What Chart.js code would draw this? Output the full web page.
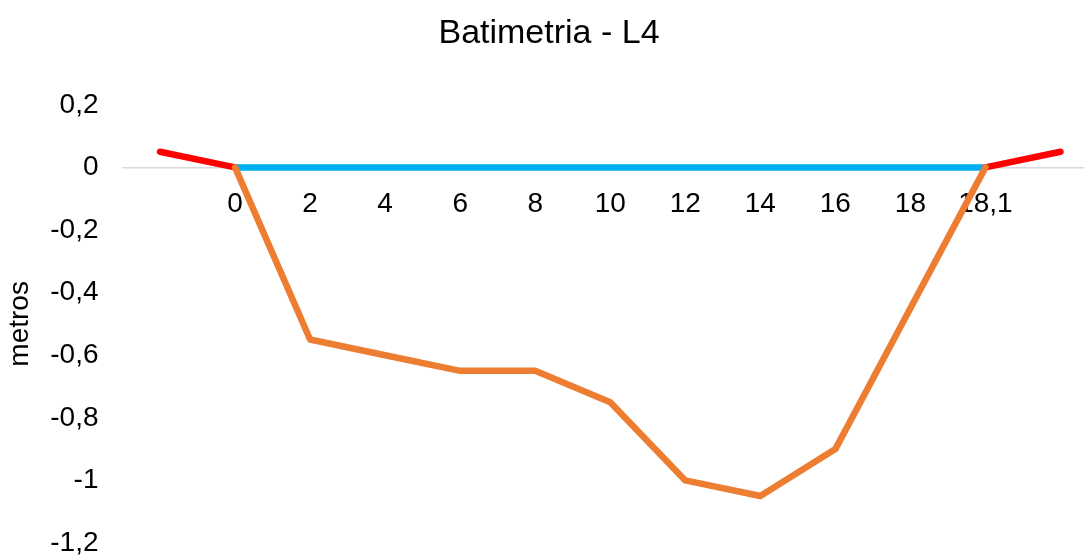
<!DOCTYPE html>
<html>
<head>
<meta charset="utf-8">
<script src="https://cdn.jsdelivr.net/npm/chart.js@4"></script>
<style>
  html, body { margin: 0; padding: 0; background: #fff; overflow: hidden; }
  #wrap { width: 1098px; height: 557px; }
</style>
</head>
<body>
<div id="wrap"><canvas id="grafico" width="1098" height="557"></canvas></div>
<script>
const categorias = ['', '0', '2', '4', '6', '8', '10', '12', '14', '16', '18', '18,1', ''];
const margem = [0.05, 0, null, null, null, null, null, null, null, null, null, 0, 0.05];
const lamina = [null, 0, 0, 0, 0, 0, 0, 0, 0, 0, 0, 0, null];
const leito = [null, 0, -0.55, -0.6, -0.65, -0.65, -0.75, -1.0, -1.05, -0.9, -0.45, 0, null];
const yTicks = [0.2, 0, -0.2, -0.4, -0.6, -0.8, -1, -1.2];

const fonte = 'Liberation Sans, Arial, sans-serif';
const linha = (cor) => ({
  borderColor: cor,
  backgroundColor: cor,
  borderWidth: 6.5,
  pointRadius: 0,
  borderCapStyle: 'round',
  borderJoinStyle: 'round',
  tension: 0,
  spanGaps: false
});

const config = {
  type: 'line',
  data: {
    labels: categorias,
    datasets: [
      { label: 'lamina', data: lamina, ...linha('#00B0F0'), order: 3 },
      { label: 'margem', data: margem, ...linha('#FF0000'), order: 2 },
      { label: 'leito', data: leito, ...linha('#ED7D31'), order: 1 }
    ]
  },
  options: {
    responsive: false,
    animation: false,
    layout: { padding: { left: 0, right: 0, top: 0, bottom: 14 } },
    plugins: {
      legend: { display: false },
      tooltip: { enabled: false },
      title: {
        display: true,
        text: 'Batimetria - L4',
        color: '#000',
        font: { family: fonte, size: 34, weight: 'normal' },
        padding: { top: 13, bottom: 51 }
      }
    },
    scales: {
      x: {
        type: 'category',
        offset: true,
        position: { y: 0 },
        grid: { display: false, drawTicks: false },
        border: { display: true, color: '#d9d9d9', width: 1.5 },
        ticks: {
          color: '#000',
          font: { family: fonte, size: 28 },
          padding: 20,
          maxRotation: 0,
          autoSkip: false
        }
      },
      y: {
        min: -1.2,
        max: 0.2,
        grid: { display: false, drawTicks: false },
        border: { display: false },
        afterFit(s) {
          s.width = 122.5;
          s.paddingTop = 0;
          s.paddingBottom = 0;
        },
        afterBuildTicks(s) {
          s.ticks = yTicks.map(v => ({ value: v }));
        },
        title: {
          display: true,
          text: 'metros',
          color: '#000',
          font: { family: fonte, size: 28 },
          padding: { top: 3, bottom: 0 }
        },
        ticks: {
          color: '#000',
          font: { family: fonte, size: 28 },
          padding: 24,
          callback: (v) => Number(v.toFixed(1)).toString().replace('.', ',')
        }
      }
    }
  }
};

const grafico = new Chart(document.getElementById('grafico'), config);
</script>
</body>
</html>
